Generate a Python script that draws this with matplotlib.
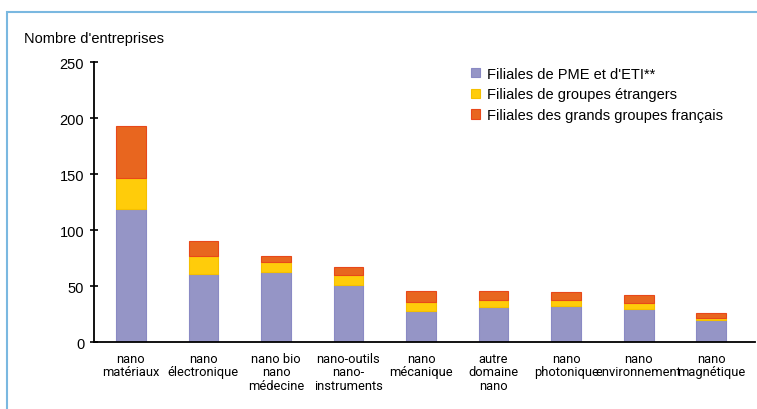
import matplotlib.pyplot as plt
from matplotlib.patches import Rectangle

plt.rcParams['font.family'] = ['Liberation Sans', 'DejaVu Sans']

categories = ['nano\nmatériaux', 'nano\nélectronique', 'nano bio\nnano\nmédecine',
              'nano-outils\nnano-\ninstruments', 'nano\nmécanique', 'autre\ndomaine\nnano',
              'nano\nphotonique', 'nano\nenvironnement', 'nano\nmagnétique']
pme_eti = [119, 61, 63, 51, 28, 31, 32, 30, 20]
etrangers = [28, 16, 9, 9, 8, 7, 6, 5, 2]
grands_fr = [46, 13, 5, 7, 10, 8, 7, 7, 4]
series_names = ['Filiales de PME et d\'ETI**', 'Filiales de groupes étrangers',
                'Filiales des grands groupes français']

colors = ['#9595c6', '#ffcc0a', '#e8661f']
edges = ['#8a8ac4', '#f5c000', '#e8481a']

fig = plt.figure(figsize=(7.57, 4.10), dpi=100)
ax = fig.add_axes([0.124, 0.163, 0.873, 0.683])

x = list(range(len(categories)))
bottom2 = [a + b for a, b in zip(pme_eti, etrangers)]
ax.bar(x, pme_eti, width=0.41, color=colors[0], edgecolor=edges[0], linewidth=0.8, label=series_names[0])
ax.bar(x, etrangers, width=0.41, bottom=pme_eti, color=colors[1], edgecolor=edges[1], linewidth=0.8,
       label=series_names[1])
ax.bar(x, grands_fr, width=0.41, bottom=bottom2, color=colors[2], edgecolor=edges[2], linewidth=0.8,
       label=series_names[2])

ax.set_xlim(-0.51, 8.6)
ax.set_ylim(0, 250)
ax.set_yticks([0, 50, 100, 150, 200, 250])
ax.set_xticks(x)
ax.set_xticklabels(categories, fontsize=9.3, linespacing=1.05, family=['Roboto', 'DejaVu Sans'])
ax.tick_params(axis='x', length=0, pad=7)
ax.tick_params(axis='y', labelsize=10.5, length=6, width=1.2, direction='inout', pad=4)
for s in ['top', 'right']:
    ax.spines[s].set_visible(False)
ax.spines['left'].set_linewidth(1.3)
ax.spines['bottom'].set_linewidth(1.3)

ax.legend(loc='upper left', bbox_to_anchor=(0.560, 1.009), frameon=False, fontsize=10.5,
          borderpad=0, handlelength=0.6, handleheight=0.6, handletextpad=0.5, labelspacing=0.45)

fig.text(0.032, 0.905, "Nombre d'entreprises", fontsize=10.5, va='center', ha='left')

fig.patches.append(Rectangle((0.0088, -0.05), 1.1, 1.018, transform=fig.transFigure,
                             fill=False, edgecolor='#7ab8e0', linewidth=1.5))

fig.savefig('out.png', dpi=100)
